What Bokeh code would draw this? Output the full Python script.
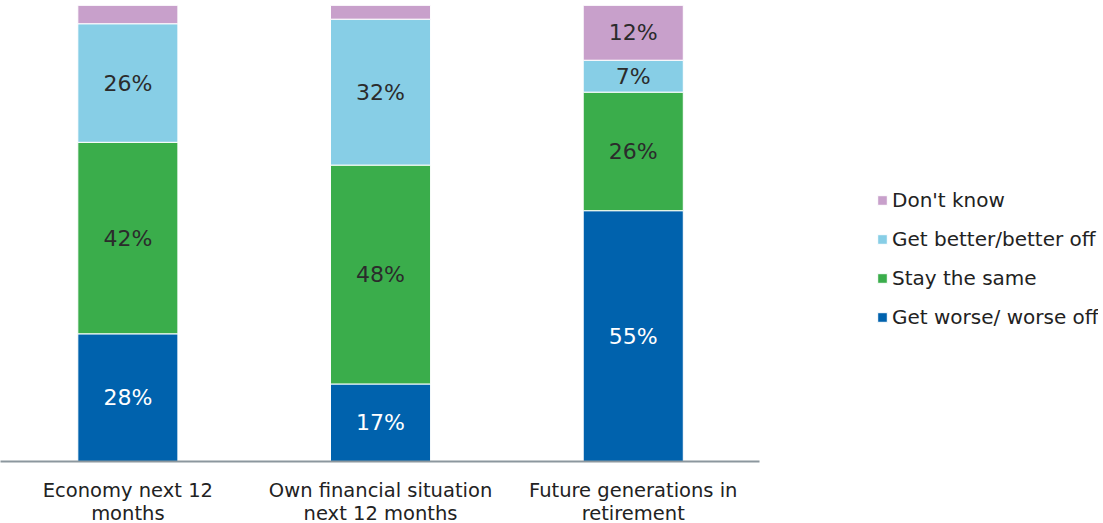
import numpy as np
from bokeh.plotting import figure
from bokeh.models import ColumnDataSource, FixedTicker, Legend, LegendItem, Range1d
from bokeh.core.properties import value
from bokeh.embed import file_html
from bokeh.resources import INLINE

categories = ["Economy next 12\nmonths", "Own financial situation\nnext 12 months", "Future generations in\nretirement"]
series = ["Get worse/ worse off", "Stay the same", "Get better/better off", "Don't know"]
worse = [28, 17, 55]
same = [42, 48, 26]
better = [26, 32, 7]
dont_know = [4, 3, 12]
colors = ["#0062AD", "#3AAD4B", "#87CEE6", "#C8A0CB"]
label_colors = ["#FFFFFF", "#2B2B2B", "#2B2B2B", "#2B2B2B"]

xs = [i + 0.5 for i in range(len(categories))]
keys = ["worse", "same", "better", "dk"]
data = dict(x=xs, worse=worse, same=same, better=better, dk=dont_know)
src = ColumnDataSource(data)

x0 = -1.0 / 252.7
p = figure(frame_width=1098, frame_height=456, x_range=Range1d(x0, x0 + 1098 / 252.7),
           y_range=Range1d(0, 100), output_backend="svg", toolbar_location=None,
           min_border=0, outline_line_color=None)
p.min_border_left = 0
p.min_border_right = 0
p.min_border_top = 5
p.min_border_bottom = 62

rs = p.vbar_stack(keys, x="x", width=0.396, color=colors, source=src,
                  line_color="white", line_width=1)

# labels
vals = np.array([worse, same, better, dont_know], dtype=float)
cum = np.cumsum(vals, axis=0)
lx, ly, lt, lc = [], [], [], []
for s in range(vals.shape[0]):
    for i in range(vals.shape[1]):
        v = vals[s, i]
        if v >= 5:
            lx.append(xs[i])
            ly.append(cum[s, i] - v / 2)
            lt.append(f"{int(v)}%")
            lc.append(label_colors[s])
lsrc = ColumnDataSource(dict(x=lx, y=ly, t=lt, c=lc))
p.text(x="x", y="y", text="t", text_color="c", source=lsrc,
       text_align="center", text_baseline="middle",
       text_font=value("DejaVu Sans"), text_font_size="22px")

p.yaxis.visible = False
p.xgrid.visible = False
p.ygrid.visible = False
xa = p.xaxis[0]
xa.ticker = FixedTicker(ticks=xs)
xa.major_label_overrides = {x: c for x, c in zip(xs, categories)}
xa.bounds = (x0, len(categories))
xa.axis_line_color = "#8C979E"
xa.axis_line_width = 2
xa.major_tick_line_color = None
xa.minor_tick_line_color = None
xa.major_label_standoff = 11
xa.major_label_text_font = "DejaVu Sans"
xa.major_label_text_font_size = "19.5px"
xa.major_label_text_color = "#222222"
xa.major_label_text_line_height = 1.0

items = [LegendItem(label=series[i], renderers=[rs[i]]) for i in range(3, -1, -1)]
legend = Legend(items=items, location=(876, 132), orientation="vertical",
                glyph_width=12, glyph_height=12, label_standoff=4,
                label_height=24, spacing=15, padding=0, margin=0,
                border_line_color=None, background_fill_alpha=0,
                label_text_font="DejaVu Sans", label_text_font_size="20px",
                label_text_color="#222222")
p.add_layout(legend)

open("out.html", "w").write(file_html(p, INLINE))
